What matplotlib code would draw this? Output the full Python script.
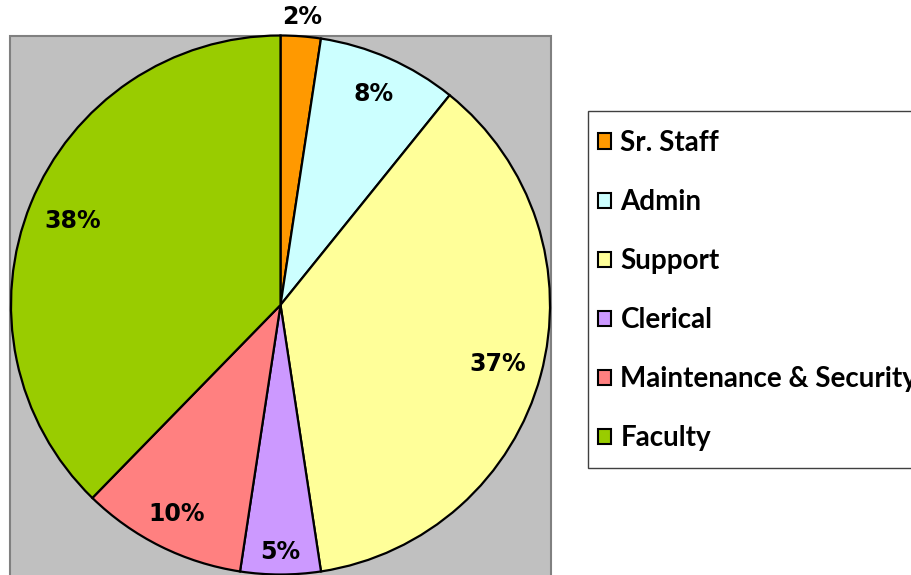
import matplotlib
matplotlib.use('Agg')
import numpy as np
import matplotlib.pyplot as plt
from matplotlib.patches import Rectangle, Patch

categories = ['Sr. Staff', 'Admin', 'Support', 'Clerical',
              'Maintenance & Security', 'Faculty']
shares = [2.4, 8.4, 36.8, 4.8, 9.9, 37.7]
colors = ['#FF9900', '#CCFFFF', '#FFFF99', '#CC99FF', '#FF8080', '#99CC00']
# radial position of each percentage label (fraction of radius)
label_dist = [1.07, 0.857, 0.836, 0.917, 0.868, 0.831]


def make_plot(out_path=None):
    fig = plt.figure(figsize=(9.11, 5.75), dpi=100)
    W, H = 911, 575

    # gray plot area behind the pie
    bg = Rectangle((10 / W, -0.02), 541 / W, (H - 36) / H + 0.02,
                   transform=fig.transFigure, facecolor='#C0C0C0',
                   edgecolor='#808080', linewidth=1.5, zorder=-1)
    fig.patches.append(bg)

    r = 269.5
    cx, cy = 280.5, H - 305
    ax = fig.add_axes([(cx - r) / W, (cy - r) / H, 2 * r / W, 2 * r / H])
    ax.set_facecolor('none')
    wedges, _ = ax.pie(shares, colors=colors, startangle=90, counterclock=False,
                       wedgeprops=dict(edgecolor='black', linewidth=1.6))
    ax.set_xlim(-1, 1)
    ax.set_ylim(-1, 1)
    ax.set_aspect('equal')
    ax.axis('off')

    for w, v, d in zip(wedges, shares, label_dist):
        ang = np.deg2rad((w.theta1 + w.theta2) / 2)
        ax.text(d * np.cos(ang), d * np.sin(ang), '%.0f%%' % v,
                ha='center', va='center', fontsize=17, fontweight='bold',
                family='DejaVu Sans', clip_on=False)

    # legend box (drawn separately so the entries can be placed freely)
    box = Rectangle((588 / W, 1 - 468 / H), 340 / W, (468 - 111) / H,
                    transform=fig.transFigure, facecolor='white',
                    edgecolor='#404040', linewidth=1.0, zorder=-1)
    fig.patches.append(box)

    handles = [Patch(facecolor=c, edgecolor='black', linewidth=1.5) for c in colors]
    fig.legend(handles, categories, loc='upper left',
               bbox_to_anchor=(598 / W, 1 - 130 / H),
               prop=dict(family='Lato', weight='bold', size=20),
               frameon=False, handlelength=0.47, handleheight=0.47,
               handletextpad=0.34, labelspacing=1.19, borderpad=0,
               borderaxespad=0)

    if out_path:
        fig.savefig(out_path, dpi=100)
    return fig


if __name__ == '__main__':
    make_plot('out.png')
